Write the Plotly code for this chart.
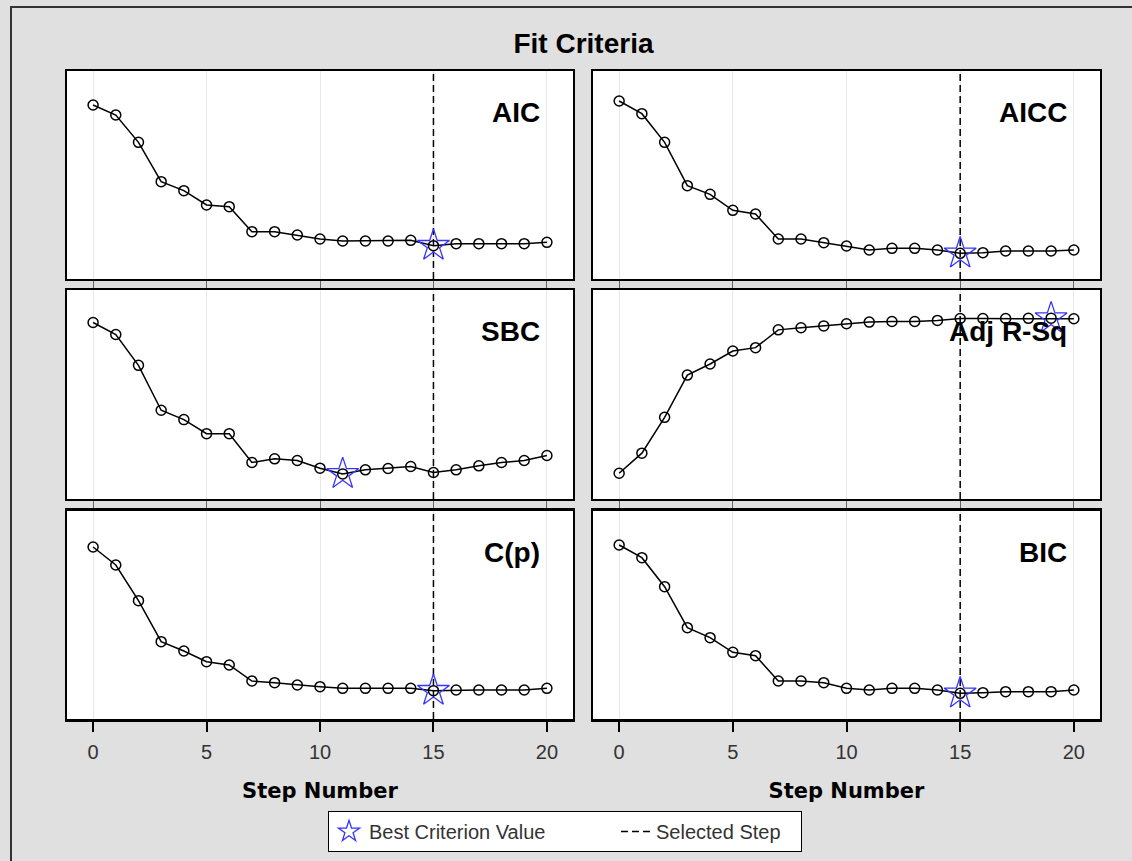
import plotly.graph_objects as go

# ---------------- data ----------------
steps = [0, 1, 2, 3, 4, 5, 6, 7, 8, 9, 10, 11, 12, 13, 14, 15, 16, 17, 18, 19, 20]
xtick_vals = [0, 5, 10, 15, 20]

aic = [861, 846, 805, 746, 732.5, 711, 708.5, 671, 671, 666, 660, 657, 657, 657, 658, 650, 653, 653, 653, 653, 655]
aicc = [867, 848, 805, 740, 727, 703, 697.5, 660, 660, 654.5, 649.5, 643.5, 646, 646, 643.5, 638.5, 639.5, 642, 642, 642, 643.5]
sbc = [913.5, 895.5, 849.5, 782.5, 768.5, 747.5, 747.5, 704.5, 710, 707.5, 696, 687.5, 693.5, 695.5, 698.5, 689.5, 693.5, 699.5, 704.5, 707.5, 715]
adj_rsq = [0.173, 0.269, 0.440, 0.642, 0.695, 0.757, 0.773, 0.858, 0.868, 0.877, 0.887, 0.895, 0.898, 0.898, 0.903, 0.912, 0.912, 0.912, 0.913, 0.914, 0.911]
cp = [218, 191, 137.5, 76, 62, 46, 41, 17, 14.5, 11, 8.5, 6, 6, 6, 6, 2.5, 3.5, 3.5, 3.5, 3.5, 6]
bic = [861, 842, 798.5, 737, 722, 700, 695, 657, 657, 654.5, 646, 643.5, 646, 646, 643.5, 638.5, 639.5, 641, 641, 641, 643.5]

criteria = ["AIC", "AICC", "SBC", "Adj R-Sq", "C(p)", "BIC"]
series = [aic, aicc, sbc, adj_rsq, cp, bic]
best_steps = [15, 15, 11, 19, 15, 15]
selected_step = 15

# ---------------- layout helpers ----------------
W, H = 1132, 861
xdom_left = [67 / W, 573 / W]
xdom_right = [593 / W, 1100 / W]
ydoms = [[1 - 279 / H, 1 - 71 / H], [1 - 499 / H, 1 - 290 / H], [1 - 719 / H, 1 - 511 / H]]
yranges = [[600, 912], [600, 912], [650, 962], [0.05, 1.0484], [-40, 272], [600, 912]]

fig = go.Figure()

layout_axes = {}
annotations = []
for i in range(6):
    n = i + 1
    row, col = divmod(i, 2)
    xa = "x" if n == 1 else f"x{n}"
    ya = "y" if n == 1 else f"y{n}"
    yr = yranges[i]
    vals = series[i]
    b = best_steps[i]

    # selected step (dashed vertical)
    sel_kw = dict(legendwidth=140) if i == 0 else {}
    fig.add_trace(go.Scatter(
        x=[selected_step, selected_step], y=yr, mode="lines",
        line=dict(color="black", width=1.5, dash="7px,4px"),
        name="Selected Step", showlegend=(i == 0), legendrank=2,
        xaxis=xa, yaxis=ya, hoverinfo="skip", **sel_kw))
    # criterion series
    fig.add_trace(go.Scatter(
        x=steps, y=vals, mode="lines+markers",
        line=dict(color="black", width=1.5),
        marker=dict(symbol="circle-open", size=10, color="black", line=dict(width=1.5)),
        showlegend=False, xaxis=xa, yaxis=ya, name=criteria[i]))
    # best criterion value
    star_kw = dict(legendwidth=242) if i == 0 else {}
    fig.add_trace(go.Scatter(
        x=[b], y=[vals[steps.index(b)]], mode="markers",
        marker=dict(symbol="star-open", size=24, color="#3535ff", line=dict(width=1.3, color="#3535ff")),
        name="Best Criterion Value", showlegend=(i == 0), legendrank=1,
        xaxis=xa, yaxis=ya, **star_kw))

    bottom = row == 2
    xkey = "xaxis" if n == 1 else f"xaxis{n}"
    ykey = "yaxis" if n == 1 else f"yaxis{n}"
    xaxis = dict(
        domain=xdom_left if col == 0 else xdom_right,
        anchor=ya, range=[-1.15, 21.15], tickvals=xtick_vals,
        showgrid=True, gridcolor="#e8e8e8", gridwidth=1, zeroline=False,
        showline=True, mirror=True, linecolor="black", linewidth=2,
        ticks="outside", ticklen=10, tickwidth=1, tickcolor="#666666",
        showticklabels=bottom,
    )
    if bottom:
        xaxis.update(
            linewidth=3, tickwidth=2, tickcolor="black", ticklabelstandoff=3,
            tickfont=dict(family="Liberation Sans", size=20, color="#333333"),
            title=dict(text="Step Number", standoff=22,
                       font=dict(family="DejaVu Sans", size=21, color="black", weight="bold")),
        )
    layout_axes[xkey] = xaxis
    layout_axes[ykey] = dict(
        domain=ydoms[row], anchor=xa, range=yr,
        showgrid=False, zeroline=False, showticklabels=False, ticks="",
        showline=True, mirror=True, linecolor="black", linewidth=2,
    )
    annotations.append(dict(
        text=criteria[i], xref=f"{xa} domain", yref=f"{ya} domain",
        x=0.938, y=0.80, xanchor="right", yanchor="middle", showarrow=False,
        font=dict(family="Liberation Sans", size=28, color="black", weight="bold")))

fig.update_layout(
    width=W, height=H,
    margin=dict(l=0, r=0, t=0, b=0),
    paper_bgcolor="#e0e0e0", plot_bgcolor="white",
    title=dict(text="Fit Criteria", x=583.5 / W, xanchor="center", xref="paper",
               y=1 - 43 / H, yanchor="middle", yref="container",
               font=dict(family="Liberation Sans", size=28, color="black", weight="bold")),
    legend=dict(orientation="h", x=328 / W, xanchor="left", y=1 - 811 / H, yanchor="top",
                bgcolor="white", bordercolor="black", borderwidth=1,
                font=dict(family="Liberation Sans", size=20, color="#333333")),
    annotations=annotations,
    shapes=[dict(type="rect", xref="paper", yref="paper", x0=11 / W, x1=1.02, y0=-0.02, y1=1 - 7 / H,
                 line=dict(color="#333333", width=2), fillcolor="rgba(0,0,0,0)", layer="below")],
    showlegend=True,
    **layout_axes,
)

fig.write_html(
    "out.html",
    config={"displayModeBar": False},
    post_script="document.body.style.margin='0';document.body.style.background='#e0e0e0';",
)
